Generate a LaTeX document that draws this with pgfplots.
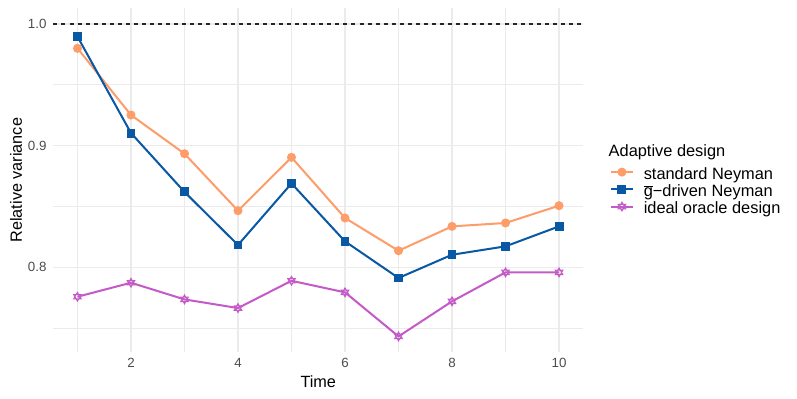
\documentclass[border=0pt]{standalone}
\usepackage{pgfplots}
\pgfplotsset{compat=1.18}
\usepackage{fontspec}
\setmainfont{Liberation Sans}
\definecolor{cOrange}{RGB}{252,157,106}
\definecolor{cBlue}{RGB}{8,88,164}
\definecolor{cPurple}{RGB}{196,90,200}
\definecolor{grid92}{RGB}{235,235,235}
\definecolor{grey30}{RGB}{77,77,77}
\pgfdeclareplotmark{hexagram}{%
  \pgfpathmoveto{\pgfqpointpolar{90}{\pgfplotmarksize}}%
  \pgfpathlineto{\pgfqpointpolar{210}{\pgfplotmarksize}}%
  \pgfpathlineto{\pgfqpointpolar{330}{\pgfplotmarksize}}%
  \pgfpathclose
  \pgfpathmoveto{\pgfqpointpolar{270}{\pgfplotmarksize}}%
  \pgfpathlineto{\pgfqpointpolar{30}{\pgfplotmarksize}}%
  \pgfpathlineto{\pgfqpointpolar{150}{\pgfplotmarksize}}%
  \pgfpathclose
  \pgfusepathqstroke}
\begin{document}
\begin{tikzpicture}
\useasboundingbox (-38.45bp,-33.84bp) rectangle (535.4bp,253.44bp);
\begin{axis}[
  at={(0,0)}, anchor=south west,
  scale only axis, width=381.4bp, height=247.4bp,
  xmin=0.55, xmax=10.45, ymin=0.7305, ymax=1.0128,
  axis line style={draw=none},
  major tick length=0pt, minor tick length=0pt,
  xtick={2,4,6,8,10}, minor xtick={1,3,5,7,9},
  ytick={0.8,0.9,1.0}, minor ytick={0.75,0.85,0.95},
  grid=both,
  major grid style={color=grid92, line width=1.07bp},
  minor grid style={color=grid92, line width=0.53bp},
  /pgf/number format/assume math mode=true,
  yticklabel style={/pgf/number format/fixed, /pgf/number format/fixed zerofill, /pgf/number format/precision=1, anchor=east, inner sep=1.5bp, xshift=-3.3bp},
  ticklabel style={font=\fontsize{9.6bp}{11bp}\selectfont, text=grey30},
  xticklabel style={anchor=north, inner sep=1.5bp, yshift=-2.7bp},
  xlabel={Time}, ylabel={Relative variance},
  every axis x label/.style={at={(axis description cs:0.5,-0.087)}, anchor=center, font=\fontsize{11.7bp}{14bp}\selectfont},
  every axis y label/.style={at={(axis description cs:-0.0706,0.5)}, rotate=90, anchor=center, font=\fontsize{11.7bp}{14bp}\selectfont},
  legend style={at={(axis description cs:1.051,0.5368)}, anchor=north west,
    draw=none, fill=none, inner sep=0pt, outer sep=0pt,
    row sep=1.4bp, column sep=0pt,
    font=\fontsize{11.8bp}{14bp}\selectfont,
    nodes={inner sep=0pt, text height=8.5bp, text depth=2.5bp, anchor=base west}},
  legend cell align=left,
  legend image code/.code={\draw[mark repeat=2,mark phase=2,#1] plot coordinates {(0bp,5.2bp) (7.8bp,5.2bp) (15.6bp,5.2bp)}; \path[draw=none,fill=none] (0bp,0bp) -- (23.5bp,0bp);},
  clip=false,
]
\addplot[forget plot, black!85, line width=0.8bp, dash pattern=on 2.9bp off 2.9bp] coordinates {(0.55,1) (10.45,1)};
\addplot[cOrange, line width=1.45bp, mark=*, mark size=2.5bp, mark options={solid, fill=cOrange, draw=cOrange}] coordinates {
(1,0.980) (2,0.9252) (3,0.8934) (4,0.8466) (5,0.8904) (6,0.8406) (7,0.8137) (8,0.8337) (9,0.8365) (10,0.8507)};
\addlegendentry{standard Neyman}
\addplot[cBlue, line width=1.45bp, mark=square*, mark size=2.5bp, mark options={solid, fill=cBlue, draw=cBlue}] coordinates {
(1,0.9896) (2,0.9104) (3,0.8620) (4,0.8184) (5,0.8690) (6,0.8214) (7,0.7913) (8,0.8104) (9,0.8173) (10,0.8337)};
\addlegendentry{$\overline{\hbox{g}}$−driven Neyman}
\addplot[cPurple, line width=1.45bp, mark=hexagram, mark size=3.2bp, mark options={solid, draw=cPurple, line width=0.7bp}] coordinates {
(1,0.7759) (2,0.7874) (3,0.7737) (4,0.7666) (5,0.7890) (6,0.7795) (7,0.7433) (8,0.7721) (9,0.7959) (10,0.7959)};
\addlegendentry{ideal oracle design}
\node[anchor=base west, inner sep=0pt, font=\fontsize{11.8bp}{14bp}\selectfont] at (axis description cs:1.0478,0.5676) {Adaptive design};
\end{axis}
\end{tikzpicture}
\end{document}
